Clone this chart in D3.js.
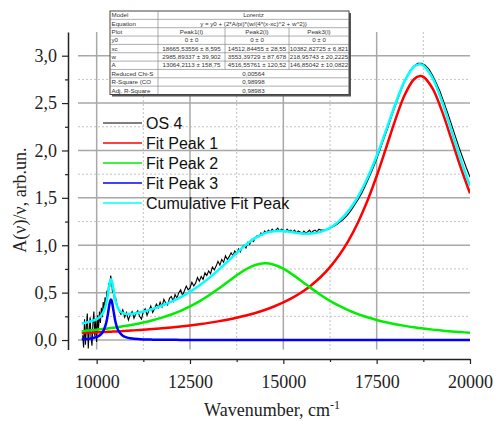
<!DOCTYPE html>
<html>
<head>
<meta charset="utf-8">
<script src="https://cdnjs.cloudflare.com/ajax/libs/d3/7.8.5/d3.min.js"></script>
<style>
body { margin: 0; background: #fff; }
</style>
</head>
<body>
<svg id="chart" width="496" height="421"></svg>
<script>
// ---- data ----
// measured spectrum OS 4, three sampled segments (start, step, values)
let osStartA = 9625, osStepA = 25;
let osA = [0.05, -0.08, 0.22, -0.05, 0.15, 0.28, -0.09, 0.10, 0.24, 0.02, -0.06, 0.18,
	0.30, 0.04, 0.20, -0.02, 0.26, 0.12, 0.30, 0.18, 0.34, 0.24, 0.40, 0.32,
	0.45, 0.38, 0.52, 0.48, 0.60, 0.56, 0.68, 0.62, 0.50, 0.55, 0.42, 0.46];
let osStartB = 10550, osStepB = 50;
let osB = [0.36, 0.31, 0.27, 0.32, 0.24, 0.29, 0.21, 0.27, 0.30, 0.23,
	0.28, 0.31, 0.25, 0.22, 0.30, 0.33, 0.26, 0.31, 0.36, 0.29,
	0.33, 0.38, 0.34, 0.40, 0.35, 0.43, 0.39, 0.37, 0.44, 0.46,
	0.41, 0.48, 0.44, 0.50, 0.53, 0.47, 0.52, 0.57, 0.53, 0.55,
	0.61, 0.57, 0.60, 0.66, 0.62, 0.67, 0.64, 0.71, 0.68, 0.73,
	0.70, 0.77, 0.74, 0.78, 0.83, 0.79, 0.85, 0.82, 0.89, 0.85,
	0.88, 0.92, 0.89, 0.94, 0.91, 0.96, 0.93, 0.98, 1.00, 0.97,
	1.03, 1.01, 1.06, 1.04, 1.08, 1.10, 1.09, 1.13, 1.11, 1.15,
	1.13, 1.16, 1.14, 1.17, 1.15, 1.16, 1.18, 1.15, 1.17, 1.16,
	1.14, 1.17, 1.15, 1.16, 1.14, 1.16, 1.13, 1.15, 1.14, 1.12,
	1.15, 1.13, 1.14, 1.16, 1.13, 1.15, 1.16, 1.14, 1.17, 1.16];
let osStartC = 16100, osStepC = 100;
let osC = [1.16, 1.17, 1.19, 1.21, 1.24, 1.27, 1.31, 1.36, 1.42, 1.48,
	1.55, 1.63, 1.72, 1.81, 1.91, 2.02, 2.13, 2.24, 2.36, 2.47,
	2.58, 2.68, 2.77, 2.84, 2.89, 2.92, 2.92, 2.90, 2.86, 2.79,
	2.71, 2.62, 2.51, 2.40, 2.28, 2.16, 2.04, 1.93, 1.82, 1.72];

// fitted curves, sampled at these wavenumbers
let fitX = [9600, 9700, 9800, 9900, 10000, 10050, 10100, 10150, 10200, 10250, 10300, 10350,
	10383, 10400, 10450, 10500, 10550, 10600, 10700, 10800, 10900, 11000,
	11250, 11500, 11750, 12000, 12250, 12500, 12750, 13000, 13250, 13500, 13750, 14000,
	14250, 14500, 14750, 15000, 15250, 15500, 15750, 16000, 16250, 16500, 16750, 17000,
	17250, 17500, 17750, 18000, 18250, 18500, 18665, 18750, 19000, 19250, 19500, 19750, 20000];
let peak1 = [0.0735, 0.0751, 0.0767, 0.0784, 0.0803, 0.0812, 0.0821, 0.0831, 0.0840, 0.0850, 0.0860, 0.0870,
	0.0877, 0.0880, 0.0890, 0.0901, 0.0912, 0.0923, 0.0945, 0.0968, 0.0993, 0.1018,
	0.1085, 0.1158, 0.1240, 0.1331, 0.1430, 0.1543, 0.1668, 0.1808, 0.1967, 0.2147, 0.2352, 0.2587,
	0.2857, 0.3170, 0.3535, 0.3963, 0.4467, 0.5067, 0.5785, 0.6650, 0.7698, 0.8972, 1.0525, 1.2407,
	1.4667, 1.7304, 2.0240, 2.3233, 2.5848, 2.7512, 2.7850, 2.7761, 2.6520, 2.4148, 2.1220, 1.8230, 1.5481];
let peak2 = [0.0936, 0.0970, 0.1007, 0.1046, 0.1086, 0.1107, 0.1129, 0.1151, 0.1174, 0.1197, 0.1222, 0.1248,
	0.1266, 0.1275, 0.1300, 0.1326, 0.1355, 0.1384, 0.1444, 0.1509, 0.1577, 0.1648,
	0.1850, 0.2088, 0.2367, 0.2697, 0.3086, 0.3544, 0.4077, 0.4690, 0.5375, 0.6106, 0.6832, 0.7469,
	0.7918, 0.8091, 0.7949, 0.7525, 0.6903, 0.6183, 0.5449, 0.4758, 0.4137, 0.3594, 0.3129, 0.2734,
	0.2398, 0.2114, 0.1873, 0.1667, 0.1491, 0.1340, 0.1252, 0.1210, 0.1097, 0.0998, 0.0911, 0.0835, 0.0768];
let peak3 = [0.0082, 0.0107, 0.0146, 0.0209, 0.0323, 0.0417, 0.0557, 0.0773, 0.1127, 0.1728, 0.2716, 0.3918,
	0.4270, 0.4167, 0.3101, 0.1990, 0.1281, 0.0865, 0.0455, 0.0275, 0.0183, 0.0130,
	0.0067, 0.0041, 0.0027, 0.0020, 0.0015, 0.0012, 0.0010, 0.0008, 0.0006, 0.0005, 0.0005, 0.0004,
	0.0004, 0.0003, 0.0003, 0.0003, 0.0003, 0.0002, 0.0002, 0.0002, 0.0002, 0.0002, 0.0001, 0.0001,
	0.0001, 0.0001, 0.0001, 0.0001, 0.0001, 0.0001, 0.0001, 0.0001, 0.0001, 0.0001, 0.0001, 0.0001, 0.0000];
let cumulative = [0.1753, 0.1828, 0.1920, 0.2039, 0.2212, 0.2336, 0.2507, 0.2755, 0.3141, 0.3775, 0.4798, 0.6036,
	0.6413, 0.6322, 0.5291, 0.4217, 0.3548, 0.3172, 0.2844, 0.2752, 0.2753, 0.2796,
	0.3002, 0.3287, 0.3634, 0.4048, 0.4531, 0.5099, 0.5755, 0.6506, 0.7348, 0.8258, 0.9189, 1.0060,
	1.0779, 1.1264, 1.1487, 1.1491, 1.1373, 1.1252, 1.1236, 1.1410, 1.1837, 1.2568, 1.3655, 1.5142,
	1.7066, 1.9419, 2.2114, 2.4901, 2.7340, 2.8853, 2.9103, 2.8972, 2.7618, 2.5147, 2.2132, 1.9066, 1.6250];

let seriesNames = ["OS 4", "Fit Peak 1", "Fit Peak 2", "Fit Peak 3", "Cumulative Fit Peak"];
let seriesColors = ["#000000", "#ff0000", "#00ee00", "#0000ff", "#00ffff"];

let xMajor = [10000, 12500, 15000, 17500, 20000];
let xMinor = [11250, 13750, 16250, 18750];
let yMajor = [0, 0.5, 1, 1.5, 2, 2.5, 3];
let yMinor = [0.25, 0.75, 1.25, 1.75, 2.25, 2.75];

// fit report table
let tableLabels = ["Model", "Equation", "Plot", "y0", "xc", "w", "A", "Reduced Chi-S", "R-Square (CO", "Adj. R-Square"];
let tableCells = [
	["Lorentz"],
	["y = y0 + (2*A/pi)*(w/(4*(x-xc)^2 + w^2))"],
	["Peak1(I)", "Peak2(I)", "Peak3(I)"],
	["0 \u00b1 0", "0 \u00b1 0", "0 \u00b1 0"],
	["18665,53556 \u00b1 8,595", "14512,84455 \u00b1 28,55", "10382,82725 \u00b1 6,821"],
	["2985,89337 \u00b1 39,902", "3553,39729 \u00b1 87,678", "218,95743 \u00b1 20,2225"],
	["13064,2113 \u00b1 158,75", "4516,55761 \u00b1 120,52", "146,85042 \u00b1 10,0822"],
	["0,00564"],
	["0,98998"],
	["0,98983"]
];

// ---- layout ----
let svg = d3.select("#chart");
let plotLeft = 78, plotRight = 470, plotTop = 32, plotBottom = 349.5;

let x = d3.scaleLinear().domain([9500, 20000]).range([plotLeft, plotRight]);
let y = d3.scaleLinear().domain([-0.1, 3.25]).range([plotBottom, plotTop]);

svg.append("rect").attr("width", 496).attr("height", 421).attr("fill", "white");

// grid
let grid = svg.append("g");
grid.selectAll(".ymin").data(yMinor).enter().append("line")
	.attr("x1", plotLeft).attr("x2", plotRight)
	.attr("y1", d => y(d)).attr("y2", d => y(d))
	.attr("stroke", "#c4c4c4").attr("stroke-width", 1).attr("stroke-dasharray", "2,2");
grid.selectAll(".xmin").data(xMinor).enter().append("line")
	.attr("x1", d => x(d)).attr("x2", d => x(d))
	.attr("y1", plotTop).attr("y2", plotBottom)
	.attr("stroke", "#c4c4c4").attr("stroke-width", 1).attr("stroke-dasharray", "2,2");
grid.selectAll(".ymaj").data(yMajor).enter().append("line")
	.attr("x1", plotLeft).attr("x2", plotRight)
	.attr("y1", d => y(d)).attr("y2", d => y(d))
	.attr("stroke", "#a8a8a8").attr("stroke-width", 1.5);
grid.selectAll(".xmaj").data(xMajor.slice(0, 4)).enter().append("line")
	.attr("x1", d => x(d)).attr("x2", d => x(d))
	.attr("y1", plotTop).attr("y2", plotBottom)
	.attr("stroke", "#a8a8a8").attr("stroke-width", 1.5);

// curves
svg.append("clipPath").attr("id", "clip").append("rect")
	.attr("x", plotLeft).attr("y", plotTop)
	.attr("width", plotRight - plotLeft).attr("height", plotBottom - plotTop);

let osData = osA.map((v, i) => [osStartA + i*osStepA, v])
	.concat(osB.map((v, i) => [osStartB + i*osStepB, v]))
	.concat(osC.map((v, i) => [osStartC + i*osStepC, v]));

let rawLine = d3.line().x(d => x(d[0])).y(d => y(d[1]));
let fitLine = d3.line().x(d => x(d[0])).y(d => y(d[1])).curve(d3.curveCatmullRom);

let curves = svg.append("g").attr("clip-path", "url(#clip)");
curves.append("path").datum(osData)
	.attr("d", rawLine).attr("fill", "none")
	.attr("stroke", seriesColors[0]).attr("stroke-width", 1.1);

[peak1, peak2, peak3, cumulative].forEach(function(vals, k) {
	curves.append("path").datum(fitX.map((xv, i) => [xv, vals[i]]))
		.attr("d", fitLine).attr("fill", "none")
		.attr("stroke", seriesColors[k+1]).attr("stroke-width", 2.5);
});

// axes
let commaFormat = d => d3.format(".1f")(d).replace(".", ",");

svg.append("g").attr("transform", "translate(68,0)")
	.call(d3.axisLeft(y).tickValues(yMajor).tickSize(6).tickSizeOuter(0).tickPadding(5).tickFormat(commaFormat));
svg.append("g").attr("transform", "translate(68,0)")
	.call(d3.axisLeft(y).tickValues(yMinor).tickSize(3).tickSizeOuter(0).tickFormat(""))
	.select(".domain").remove();

svg.append("g").attr("transform", "translate(0,359)")
	.call(d3.axisBottom(x).tickValues(xMajor).tickSize(5).tickSizeOuter(0).tickPadding(11).tickFormat(d3.format("d")));
svg.append("g").attr("transform", "translate(0,359)")
	.call(d3.axisBottom(x).tickValues(xMinor).tickSize(3).tickSizeOuter(0).tickFormat(""))
	.select(".domain").remove();

svg.selectAll(".domain").attr("stroke", "#222").attr("stroke-width", 1.5);
svg.selectAll(".tick line").attr("stroke", "#222").attr("stroke-width", 1.2);
svg.selectAll(".tick text")
	.style("font-family", "'Liberation Serif', 'Times New Roman', serif")
	.style("font-size", "18px").attr("fill", "#222");

// axis titles
let xTitle = svg.append("text")
	.attr("x", 272).attr("y", 416)
	.style("text-anchor", "middle")
	.style("font-family", "'Liberation Serif', 'Times New Roman', serif")
	.style("font-size", "18px").attr("fill", "#222");
xTitle.append("tspan").text("Wavenumber, cm");
xTitle.append("tspan").attr("dy", -7).style("font-size", "12px").text("-1");

svg.append("text")
	.attr("transform", "translate(26,200) rotate(-90)")
	.style("text-anchor", "middle")
	.style("font-family", "'Liberation Serif', 'Times New Roman', serif")
	.style("font-size", "18px").attr("fill", "#222")
	.text("A(\u03bd)/\u03bd, arb.un.");

// legend
let legend = svg.append("g");
seriesNames.forEach(function(name, i) {
	let ly = 123 + i*20;
	legend.append("line")
		.attr("x1", 103).attr("x2", 142).attr("y1", ly).attr("y2", ly)
		.attr("stroke", seriesColors[i]).attr("stroke-width", i == 0 ? 1 : 1.6);
	legend.append("text")
		.attr("x", 146).attr("y", ly + 5.8)
		.style("font-family", "'Liberation Sans', Arial, sans-serif")
		.style("font-size", "16px").attr("fill", "#111")
		.text(name);
});

// fit table
let colX = [110, 158, 225, 289, 349];
let rowTop = 11, rowH = 8.35;
let tableBottom = rowTop + rowH*tableLabels.length;
let table = svg.append("g")
	.style("font-family", "'Liberation Sans', Arial, sans-serif")
	.style("font-size", "6.2px");

table.append("rect")
	.attr("x", colX[0] + 2).attr("y", rowTop + 2)
	.attr("width", colX[4] - colX[0]).attr("height", tableBottom - rowTop)
	.attr("fill", "#555");
table.append("rect")
	.attr("x", colX[0]).attr("y", rowTop)
	.attr("width", colX[4] - colX[0]).attr("height", tableBottom - rowTop)
	.attr("fill", "white").attr("stroke", "#444").attr("stroke-width", 1);

tableLabels.forEach(function(label, r) {
	let ry = rowTop + r*rowH;
	if (r > 0) {
		table.append("line")
			.attr("x1", colX[0]).attr("x2", colX[4]).attr("y1", ry).attr("y2", ry)
			.attr("stroke", "#777").attr("stroke-width", 0.6);
	}
	table.append("text")
		.attr("x", colX[0] + 1.5).attr("y", ry + rowH - 2)
		.attr("fill", "#333").text(label);
	let cells = tableCells[r];
	if (cells.length == 1) {
		table.append("text")
			.attr("x", (colX[1] + colX[4])/2).attr("y", ry + rowH - 2)
			.style("text-anchor", "middle").attr("fill", "#333").text(cells[0]);
		table.append("line")
			.attr("x1", colX[1]).attr("x2", colX[1]).attr("y1", ry).attr("y2", ry + rowH)
			.attr("stroke", "#777").attr("stroke-width", 0.6);
	} else {
		cells.forEach(function(c, j) {
			table.append("text")
				.attr("x", (colX[j+1] + colX[j+2])/2).attr("y", ry + rowH - 2)
				.style("text-anchor", "middle").attr("fill", "#333").text(c);
			table.append("line")
				.attr("x1", colX[j+1]).attr("x2", colX[j+1]).attr("y1", ry).attr("y2", ry + rowH)
				.attr("stroke", "#777").attr("stroke-width", 0.6);
		});
	}
});
</script>
</body>
</html>
